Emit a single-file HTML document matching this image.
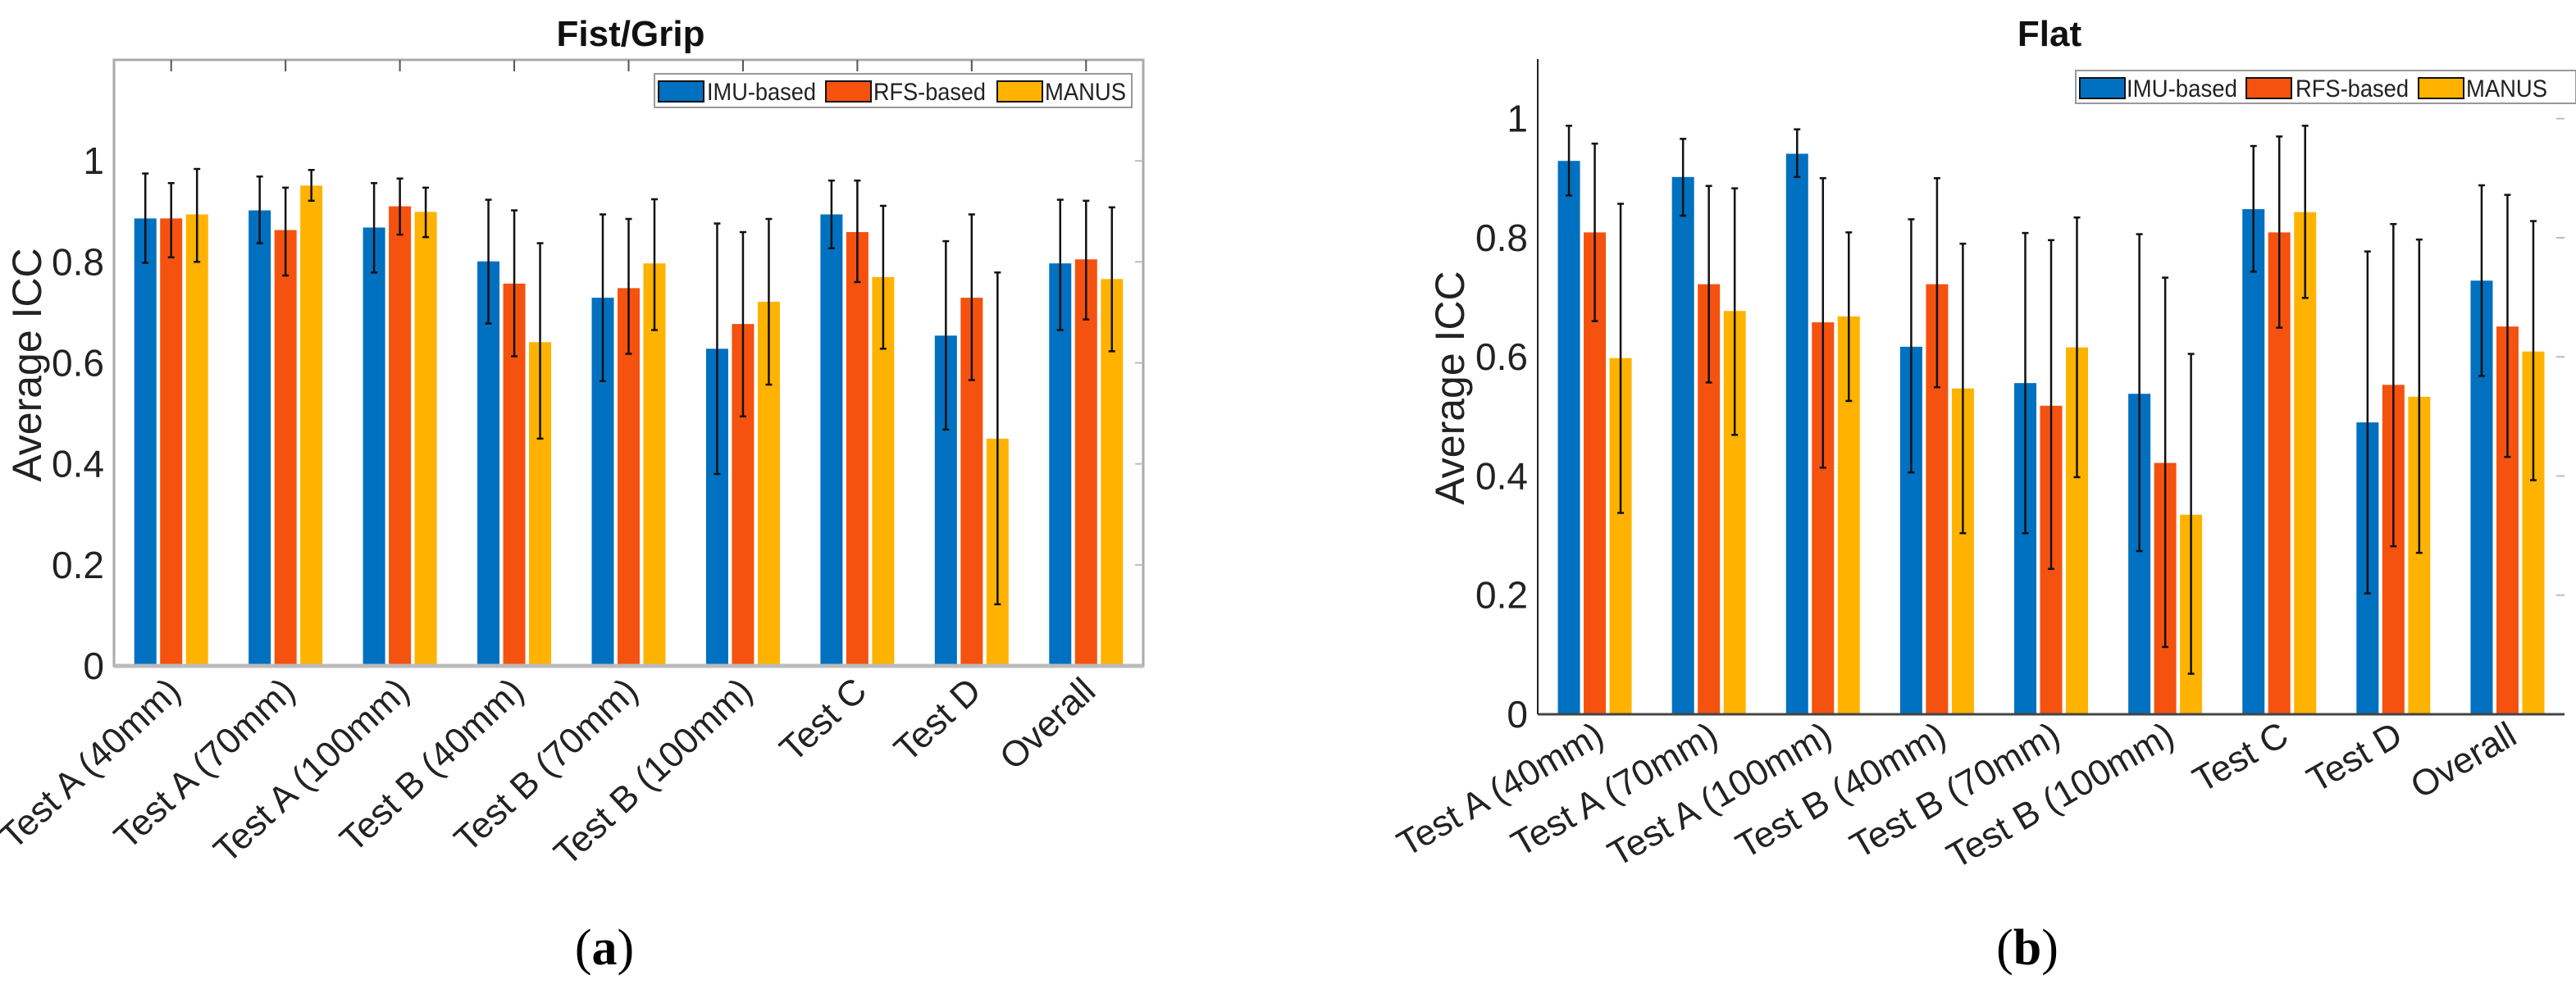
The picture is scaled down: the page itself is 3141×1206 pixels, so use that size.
<!DOCTYPE html>
<html><head><meta charset="utf-8"><style>
html,body{margin:0;padding:0;background:#fff;}
svg{display:block;font-family:"Liberation Sans",Arial,sans-serif;}
</style></head><body>
<svg id="fig" width="3141" height="1206" viewBox="0 0 3141 1206" xmlns="http://www.w3.org/2000/svg"></svg>
<script>
const categories = ["Test A (40mm)","Test A (70mm)","Test A (100mm)","Test B (40mm)","Test B (70mm)","Test B (100mm)","Test C","Test D","Overall"];
const seriesNames = ["IMU-based","RFS-based","MANUS"];
const yTicksA = [0,0.2,0.4,0.6,0.8,1];
const yTickLabels = ["0","0.2","0.4","0.6","0.8","1"];
// Fist/Grip
const gripIMU = [0.886,0.902,0.868,0.801,0.729,0.628,0.894,0.654,0.797];
const gripIMUHi = [0.975,0.969,0.956,0.923,0.894,0.876,0.961,0.841,0.923];
const gripIMULo = [0.798,0.837,0.779,0.678,0.564,0.380,0.827,0.468,0.665];
const gripRFS = [0.886,0.863,0.910,0.757,0.748,0.677,0.859,0.729,0.805];
const gripRFSHi = [0.956,0.947,0.965,0.902,0.885,0.859,0.961,0.894,0.921];
const gripRFSLo = [0.809,0.773,0.854,0.613,0.618,0.494,0.760,0.566,0.686];
const gripMAN = [0.894,0.951,0.899,0.641,0.797,0.721,0.770,0.450,0.766];
const gripMANHi = [0.984,0.982,0.947,0.837,0.924,0.885,0.911,0.779,0.908];
const gripMANLo = [0.800,0.921,0.849,0.450,0.665,0.557,0.628,0.122,0.623];
// Flat
const flatIMU = [0.929,0.902,0.941,0.617,0.556,0.538,0.848,0.490,0.728];
const flatIMUHi = [0.988,0.966,0.982,0.831,0.808,0.806,0.954,0.777,0.888];
const flatIMULo = [0.871,0.837,0.902,0.406,0.304,0.274,0.743,0.203,0.568];
const flatRFS = [0.809,0.722,0.658,0.722,0.518,0.422,0.809,0.553,0.651];
const flatRFSHi = [0.958,0.887,0.900,0.900,0.796,0.733,0.970,0.823,0.872];
const flatRFSLo = [0.660,0.557,0.414,0.549,0.244,0.113,0.649,0.282,0.432];
const flatMAN = [0.598,0.677,0.668,0.547,0.616,0.335,0.843,0.533,0.609];
const flatMANHi = [0.857,0.883,0.809,0.790,0.834,0.605,0.988,0.797,0.828];
const flatMANLo = [0.338,0.469,0.526,0.304,0.398,0.068,0.699,0.271,0.393];

const NS="http://www.w3.org/2000/svg";
const svg=document.getElementById('fig');
const colors=["#0070C0","#F5520F","#FFB300"];
function mk(tag,attrs,parent){const e=document.createElementNS(NS,tag);for(const k in attrs)e.setAttribute(k,attrs[k]);(parent||svg).appendChild(e);return e;}

function chart(cfg){
  const g=mk('g',{});
  
  
  const xs=i=>cfg.left+(i+0.5)*(cfg.right-cfg.left)/9;
  const ys=v=>cfg.zero-(v/cfg.ymax)*(cfg.zero-cfg.top);
  if(cfg.box){
    const b=mk('rect',{x:cfg.left,y:cfg.top,width:cfg.right-cfg.left,height:cfg.zero-cfg.top,fill:'none',stroke:'#aaa','stroke-width':3},g);
    
    
    for(let i=0;i<9;i++){mk('line',{x1:xs(i),x2:xs(i),y1:cfg.top,y2:cfg.top+14,stroke:'#555','stroke-width':2},g);}
  }
  // y ticks
  yTicksA.forEach((v,i)=>{
    const t=mk('text',{x:cfg.left-12,y:ys(v)+16,'text-anchor':'end','font-size':46,fill:'#222'},g);
    t.textContent=yTickLabels[i];
    
    
    mk('line',{x1:cfg.right-10,x2:cfg.right,y1:ys(v),y2:ys(v),stroke:'#bbb','stroke-width':2},g);
  });
  const sets=[[cfg.d[0],cfg.d[1],cfg.d[2]],[cfg.d[3],cfg.d[4],cfg.d[5]],[cfg.d[6],cfg.d[7],cfg.d[8]]];
  const bw=27, off=31.5;
  sets.forEach((s,si)=>{
    s[0].forEach((v,i)=>{
      const cx=xs(i)+(si-1)*off;
      const r=mk('rect',{x:cx-bw/2,y:ys(v),width:bw,height:ys(0)-ys(v),fill:colors[si]},g);
      
      
      const e=mk('g',{stroke:'#111','stroke-width':2.5},g);
      
      
      mk('line',{x1:cx,x2:cx,y1:ys(s[1][i]),y2:ys(s[2][i])},e);
      mk('line',{x1:cx-4,x2:cx+4,y1:ys(s[1][i]),y2:ys(s[1][i])},e);
      mk('line',{x1:cx-4,x2:cx+4,y1:ys(s[2][i]),y2:ys(s[2][i])},e);
    });
  });
  // axes
  if(cfg.box){
    mk('line',{x1:cfg.left,x2:cfg.right,y1:cfg.zero,y2:cfg.zero,stroke:'#bbb','stroke-width':5},g);
  } else {
    mk('line',{x1:cfg.left,x2:cfg.left,y1:cfg.top,y2:cfg.zero,stroke:'#222','stroke-width':2},g);
    mk('line',{x1:cfg.left,x2:cfg.right,y1:cfg.zero,y2:cfg.zero,stroke:'#444','stroke-width':3},g);
  }
  // x labels
  categories.forEach((c,i)=>{
    const x=xs(i)+14, y=cfg.zero+34;
    const t=mk('text',{x:x,y:y,'text-anchor':'end','font-size':44,fill:'#222',transform:`rotate(${cfg.rot} ${x} ${y})`},g);
    t.textContent=c;
    
    
  });
  const yl=mk('text',{x:cfg.ylx,y:cfg.yly,'text-anchor':'middle','font-size':50,fill:'#222',transform:`rotate(-90 ${cfg.ylx} ${cfg.yly})`},g);
  yl.textContent='Average ICC';
  
  
  const ti=mk('text',{x:cfg.tx,y:56,'text-anchor':'middle','font-size':44,'font-weight':'bold',fill:'#111'},g);
  ti.textContent=cfg.title;
  
  
  // legend
  const lg=mk('g',{},g);
  
  
  mk('rect',{x:cfg.lg[0],y:cfg.lg[1],width:cfg.lg[2],height:cfg.lg[3],fill:'#fff',stroke:'#999','stroke-width':2},lg);
  cfg.lgItems.forEach((it,k)=>{
    const sw=mk('rect',{x:it[0],y:cfg.lg[1]+9,width:55,height:25,fill:colors[k],stroke:'#111','stroke-width':2},lg);
    
    
    const t=mk('text',{x:it[1],y:cfg.lg[1]+32,'font-size':30,fill:'#222',textLength:it[2],lengthAdjust:'spacingAndGlyphs'},lg);
    t.textContent=seriesNames[k];
    
    
  });
  const cap=mk('text',{x:cfg.capx,y:1176,'text-anchor':'middle','font-size':62,fill:'#000','font-family':'"Liberation Serif",serif'},g);
  cap.innerHTML='(<tspan font-weight="bold">'+cfg.cap+'</tspan>)';
  
  
}
chart({name:'fist-grip-chart',left:139,right:1394,top:73,zero:812,ymax:1.2,box:true,rot:-43,
  d:[gripIMU,gripIMUHi,gripIMULo,gripRFS,gripRFSHi,gripRFSLo,gripMAN,gripMANHi,gripMANLo],
  ylx:50,yly:445,tx:769,title:'Fist/Grip',lg:[798,90,582,41],
  lgItems:[[803,862,133],[1007,1065,137],[1216,1274,99]],capx:737,cap:'a'});
chart({name:'flat-chart',left:1875,right:3127,top:72,zero:871,ymax:1.1,box:false,rot:-30,
  d:[flatIMU,flatIMUHi,flatIMULo,flatRFS,flatRFSHi,flatRFSLo,flatMAN,flatMANHi,flatMANLo],
  ylx:1785,yly:473,tx:2499,title:'Flat',lg:[2531,86,610,40],
  lgItems:[[2536,2593,135],[2739,2799,138],[2949,3007,99]],capx:2472,cap:'b'});
</script>
</body></html>
